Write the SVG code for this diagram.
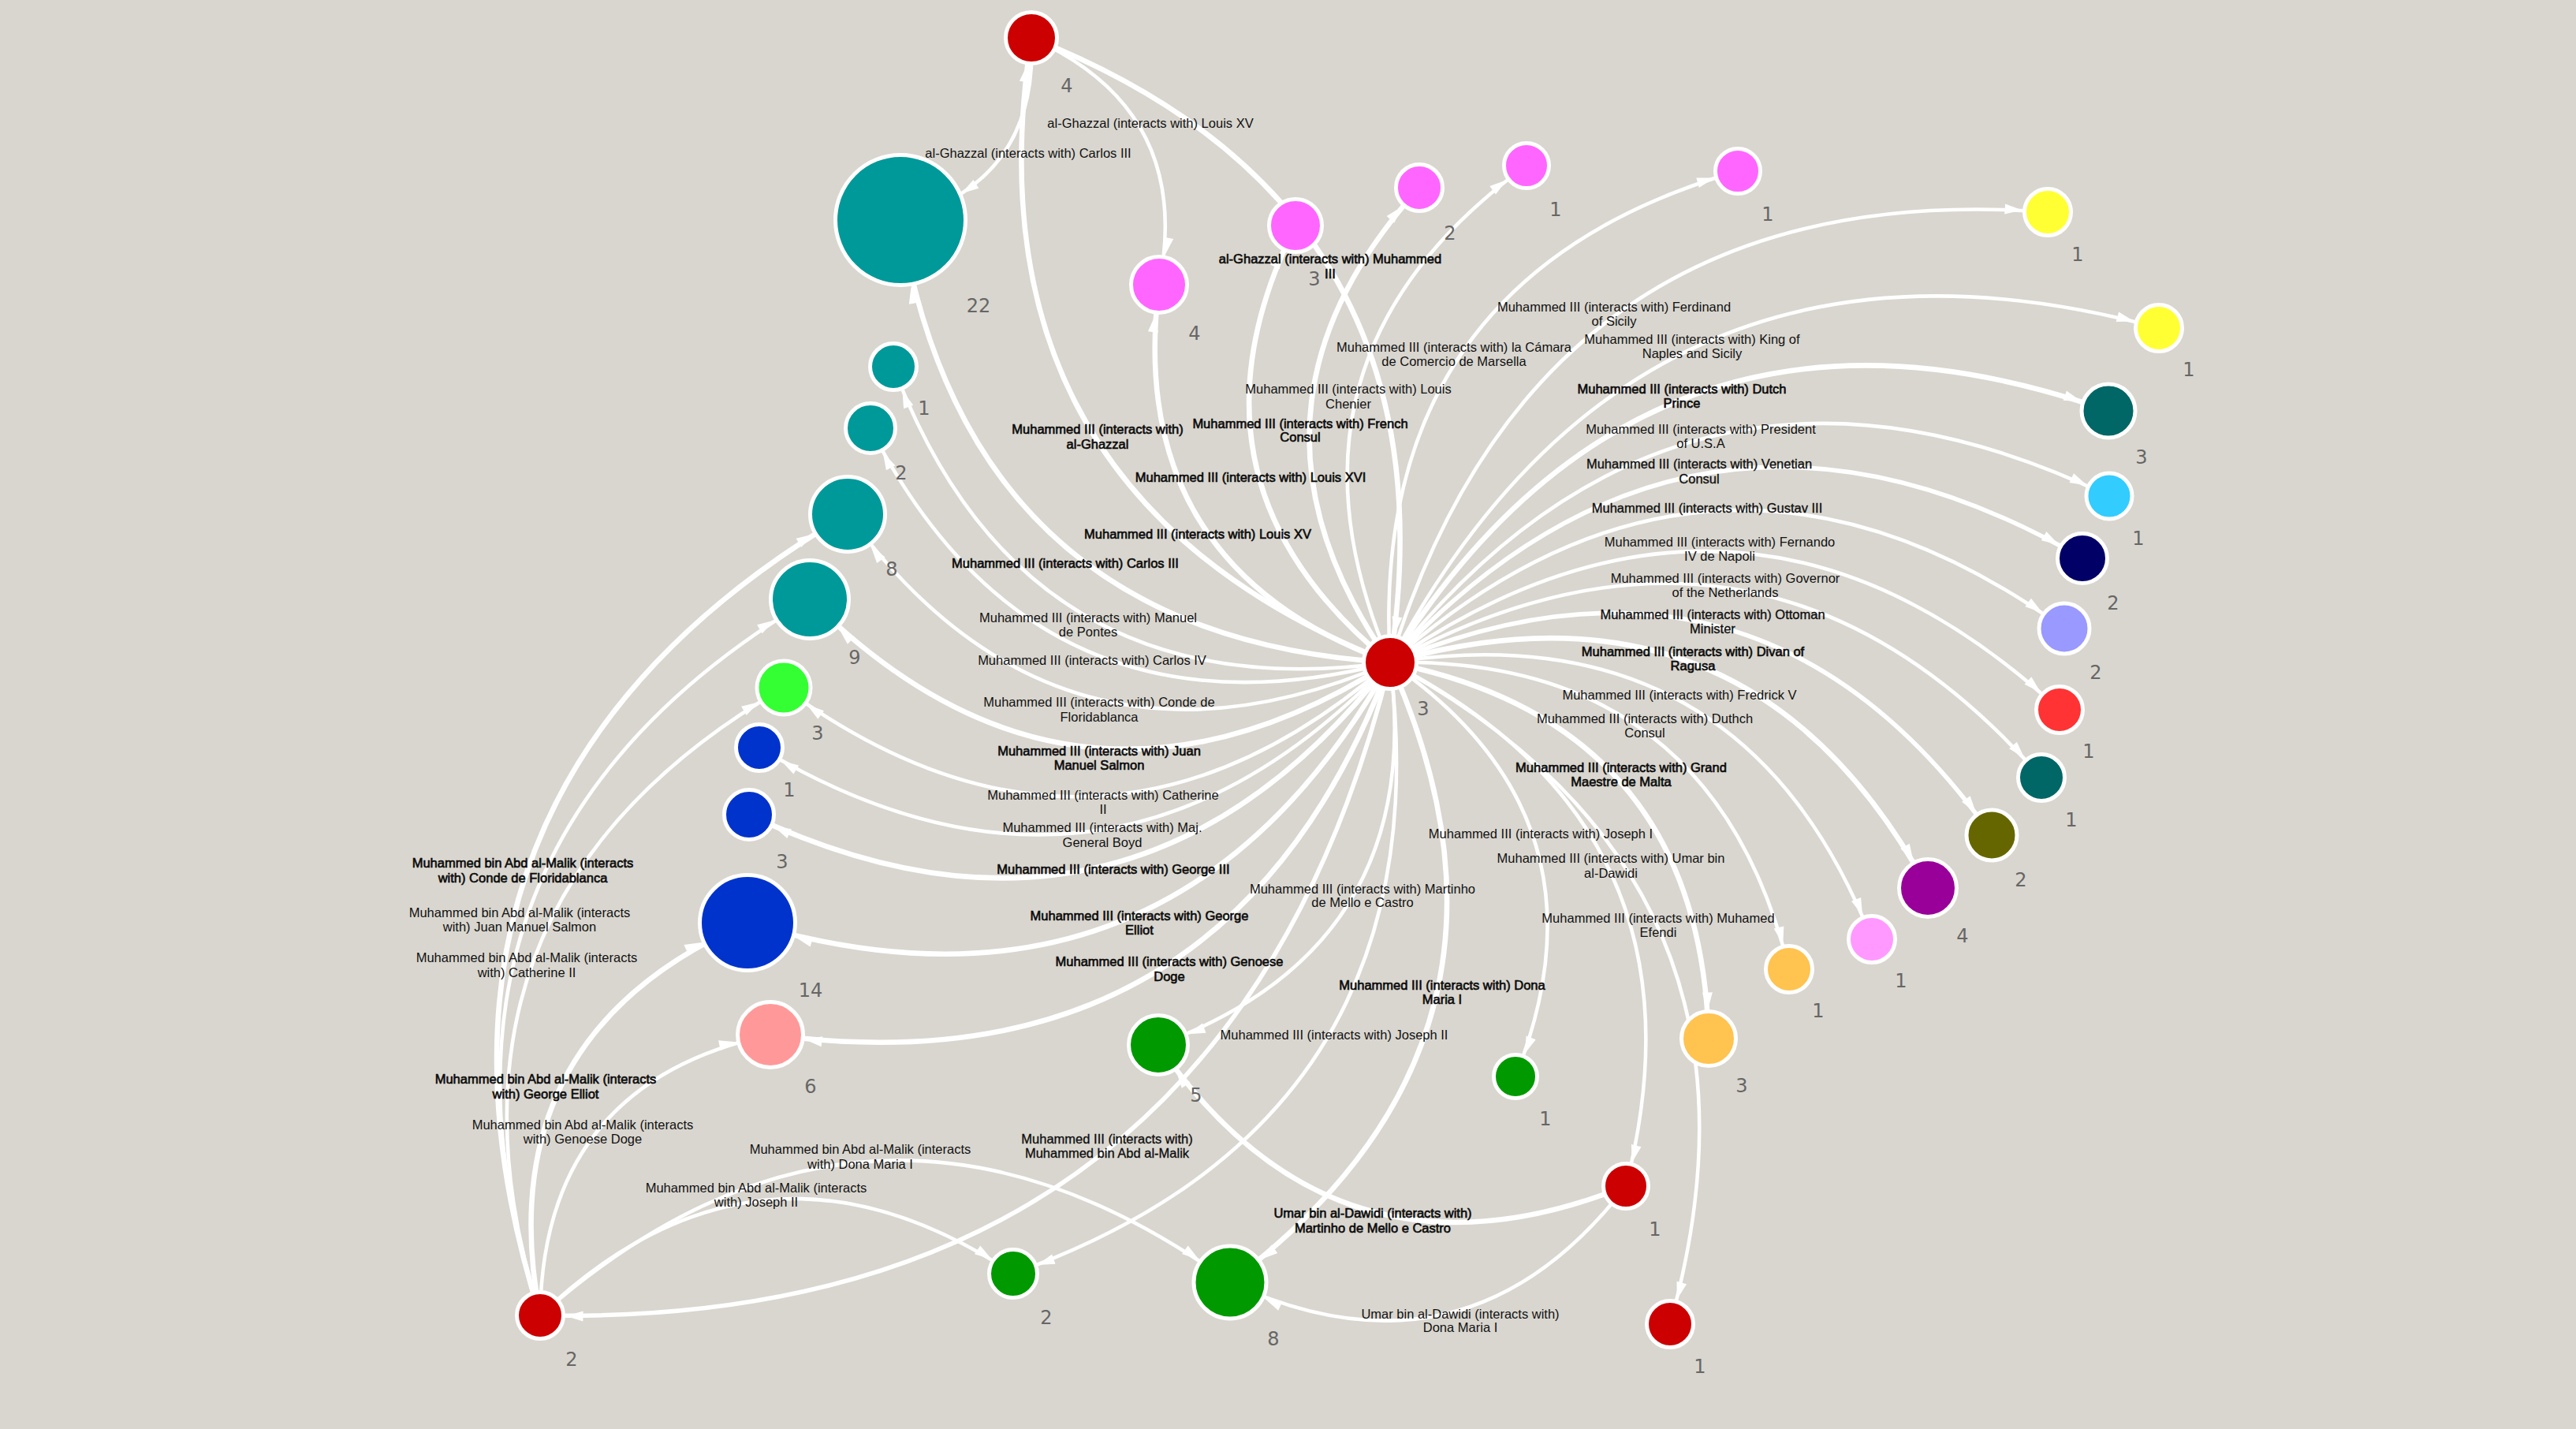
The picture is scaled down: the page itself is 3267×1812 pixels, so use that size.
<svg xmlns="http://www.w3.org/2000/svg" width="3267" height="1812" viewBox="0 0 3267 1812">
<style>
.e{fill:none;stroke:#fff;stroke-width:4.5}
.t{stroke-width:6.5}
.s{stroke-width:5.5}
.l{font-family:"Liberation Sans",Arial,sans-serif;font-size:16.5px;fill:#111;text-anchor:middle}
.b{stroke:#000;stroke-width:0.6}
.h{stroke:#000;stroke-width:0.3}
.n{stroke:#fff;stroke-width:5}
.c{font-family:"DejaVu Sans",Verdana,sans-serif;font-size:24px;fill:#666;text-anchor:middle}
</style>
<defs>
<marker id="m0" markerUnits="userSpaceOnUse" markerWidth="24" markerHeight="14" refX="22" refY="6.5" orient="auto" overflow="visible"><path d="M0,0L22,6.5L0,13z" fill="#fff"/></marker>
<marker id="m30" markerUnits="userSpaceOnUse" markerWidth="24" markerHeight="14" refX="53" refY="6.5" orient="auto" overflow="visible"><path d="M0,0L22,6.5L0,13z" fill="#fff"/></marker>
<marker id="m32" markerUnits="userSpaceOnUse" markerWidth="24" markerHeight="14" refX="54.5" refY="6.5" orient="auto" overflow="visible"><path d="M0,0L22,6.5L0,13z" fill="#fff"/></marker>
<marker id="m34" markerUnits="userSpaceOnUse" markerWidth="24" markerHeight="14" refX="56.5" refY="6.5" orient="auto" overflow="visible"><path d="M0,0L22,6.5L0,13z" fill="#fff"/></marker>
<marker id="m36" markerUnits="userSpaceOnUse" markerWidth="24" markerHeight="14" refX="58.5" refY="6.5" orient="auto" overflow="visible"><path d="M0,0L22,6.5L0,13z" fill="#fff"/></marker>
<marker id="m38" markerUnits="userSpaceOnUse" markerWidth="24" markerHeight="14" refX="60.5" refY="6.5" orient="auto" overflow="visible"><path d="M0,0L22,6.5L0,13z" fill="#fff"/></marker>
<marker id="m40" markerUnits="userSpaceOnUse" markerWidth="24" markerHeight="14" refX="62" refY="6.5" orient="auto" overflow="visible"><path d="M0,0L22,6.5L0,13z" fill="#fff"/></marker>
<marker id="m44" markerUnits="userSpaceOnUse" markerWidth="24" markerHeight="14" refX="66" refY="6.5" orient="auto" overflow="visible"><path d="M0,0L22,6.5L0,13z" fill="#fff"/></marker>
<marker id="m48" markerUnits="userSpaceOnUse" markerWidth="24" markerHeight="14" refX="70.5" refY="6.5" orient="auto" overflow="visible"><path d="M0,0L22,6.5L0,13z" fill="#fff"/></marker>
<marker id="m50" markerUnits="userSpaceOnUse" markerWidth="24" markerHeight="14" refX="72" refY="6.5" orient="auto" overflow="visible"><path d="M0,0L22,6.5L0,13z" fill="#fff"/></marker>
<marker id="m52" markerUnits="userSpaceOnUse" markerWidth="24" markerHeight="14" refX="74" refY="6.5" orient="auto" overflow="visible"><path d="M0,0L22,6.5L0,13z" fill="#fff"/></marker>
<marker id="m63" markerUnits="userSpaceOnUse" markerWidth="24" markerHeight="14" refX="85" refY="6.5" orient="auto" overflow="visible"><path d="M0,0L22,6.5L0,13z" fill="#fff"/></marker>
<marker id="m85" markerUnits="userSpaceOnUse" markerWidth="24" markerHeight="14" refX="107" refY="6.5" orient="auto" overflow="visible"><path d="M0,0L22,6.5L0,13z" fill="#fff"/></marker>
</defs>
<rect width="3267" height="1812" fill="#d9d6cf"/>
<g id="edges">
<path class="e t" d="M1763,840Q1541,524 1800,238" marker-end="url(#m32)"/>
<path class="e" d="M1763,840Q1597.5,455.8 1936,210" marker-end="url(#m30)"/>
<path class="e" d="M1763,840Q1734.3,352.1 2204,217" marker-end="url(#m30)"/>
<path class="e" d="M1763,840Q1951.6,220.9 2597,269" marker-end="url(#m32)"/>
<path class="e" d="M1763,840Q2080.9,238 2738,416" marker-end="url(#m32)"/>
<path class="e t" d="M1763,840Q2090.9,316.1 2674,521" marker-end="url(#m36)"/>
<path class="e" d="M1763,840Q2134.6,369.7 2675,629" marker-end="url(#m30)"/>
<path class="e s" d="M1763,840Q2149.2,422.8 2641,708" marker-end="url(#m34)"/>
<path class="e" d="M1763,840Q2173.3,476.5 2618,797" marker-end="url(#m34)"/>
<path class="e" d="M1763,840Q2211.5,530.4 2612,900" marker-end="url(#m32)"/>
<path class="e" d="M1763,840Q2234.4,582.6 2589,986" marker-end="url(#m32)"/>
<path class="e s" d="M1763,840Q2232.1,644.3 2526,1059" marker-end="url(#m34)"/>
<path class="e t" d="M1763,840Q2218.4,710.2 2445,1126" marker-end="url(#m38)"/>
<path class="e" d="M1763,840Q2208.9,771.1 2374,1191" marker-end="url(#m32)"/>
<path class="e" d="M1763,840Q2171.6,832.1 2269,1229" marker-end="url(#m32)"/>
<path class="e t" d="M1763,840Q2155.8,916.9 2167,1317" marker-end="url(#m36)"/>
<path class="e" d="M1763,840Q2178.1,1052.4 2062,1504" marker-end="url(#m30)"/>
<path class="e" d="M1763,840Q2276.1,1117.5 2118,1679" marker-end="url(#m32)"/>
<path class="e" d="M1763,840Q2052.5,1038.9 1922,1365" marker-end="url(#m30)"/>
<path class="e t" d="M1763,840Q1975.9,1314.2 1560,1626" marker-end="url(#m48)"/>
<path class="e" d="M1763,840Q1810,1200.1 1469,1325" marker-end="url(#m40)"/>
<path class="e" d="M1763,840Q1834,1418.7 1285,1615" marker-end="url(#m32)"/>
<path class="e s" d="M1763,840Q1555.2,1685.2 685,1668" marker-end="url(#m32)"/>
<path class="e t" d="M1763,840Q1558.8,1390.4 977,1312" marker-end="url(#m44)"/>
<path class="e t" d="M1763,840Q1487.5,1331 948,1170" marker-end="url(#m63)"/>
<path class="e t" d="M1763,840Q1433.7,1261.7 950,1033" marker-end="url(#m34)"/>
<path class="e" d="M1763,840Q1406.2,1214 963,948" marker-end="url(#m32)"/>
<path class="e" d="M1763,840Q1391.3,1163.6 994,872" marker-end="url(#m36)"/>
<path class="e t" d="M1763,840Q1363,1094.4 1027,760" marker-end="url(#m52)"/>
<path class="e" d="M1763,840Q1343.8,1021.2 1075,652" marker-end="url(#m50)"/>
<path class="e" d="M1763,840Q1314.7,955.1 1104,543" marker-end="url(#m34)"/>
<path class="e" d="M1763,840Q1298,904.5 1133,465" marker-end="url(#m32)"/>
<path class="e t" d="M1763,840Q1228.1,807.9 1142,279" marker-end="url(#m85)"/>
<path class="e t" d="M1763,840Q1218.7,626 1308,48" marker-end="url(#m34)"/>
<path class="e t" d="M1763,840Q1424.9,717.7 1470,361" marker-end="url(#m38)"/>
<path class="e t" d="M1763,840Q1481.4,611 1643,286" marker-end="url(#m36)"/>
<path class="e" d="M1308,48Q1315,183.5 1219.4,245.3" marker-end="url(#m0)"/>
<path class="e" d="M1308,48Q1514.2,139.7 1470,361" marker-end="url(#m38)"/>
<path class="e t" d="M1308,48Q1852.3,262 1763,840" marker-end="url(#m36)"/>
<path class="e t" d="M2062,1504Q1693.9,1651.7 1469,1325" marker-end="url(#m40)"/>
<path class="e" d="M2062,1504Q1859.8,1765.8 1560,1626" marker-end="url(#m48)"/>
<path class="e t" d="M685,1668Q473.6,1004 1075,652" marker-end="url(#m50)"/>
<path class="e" d="M685,1668Q492.8,1077.2 1027,760" marker-end="url(#m52)"/>
<path class="e" d="M685,1668Q521.1,1146.4 994,872" marker-end="url(#m36)"/>
<path class="e t" d="M685,1668Q617.3,1313.8 948,1170" marker-end="url(#m63)"/>
<path class="e" d="M685,1668Q688.6,1373.2 977,1312" marker-end="url(#m44)"/>
<path class="e" d="M685,1668Q1105.7,1297 1560,1626" marker-end="url(#m48)"/>
<path class="e" d="M685,1668Q963.8,1401.5 1285,1615" marker-end="url(#m32)"/>
</g>
<g id="edge-labels">
<text class="l" x="1304" y="200">al-Ghazzal (interacts with) Carlos III</text>
<text class="l" x="1459" y="162">al-Ghazzal (interacts with) Louis XV</text>
<text class="l b" x="1687" y="334">al-Ghazzal (interacts with) Muhammed<tspan x="1687" dy="19">III</tspan></text>
<text class="l b" x="1392" y="550">Muhammed III (interacts with)<tspan x="1392" dy="19">al-Ghazzal</tspan></text>
<text class="l b" x="1586" y="611">Muhammed III (interacts with) Louis XVI</text>
<text class="l b" x="1519" y="683">Muhammed III (interacts with) Louis XV</text>
<text class="l b" x="1351" y="720">Muhammed III (interacts with) Carlos III</text>
<text class="l" x="1380" y="789">Muhammed III (interacts with) Manuel<tspan x="1380" dy="18">de Pontes</tspan></text>
<text class="l" x="1385" y="843">Muhammed III (interacts with) Carlos IV</text>
<text class="l" x="1394" y="896">Muhammed III (interacts with) Conde de<tspan x="1394" dy="19">Floridablanca</tspan></text>
<text class="l b" x="1394" y="958">Muhammed III (interacts with) Juan<tspan x="1394" dy="18">Manuel Salmon</tspan></text>
<text class="l" x="1399" y="1014">Muhammed III (interacts with) Catherine<tspan x="1399" dy="18">II</tspan></text>
<text class="l" x="1398" y="1055">Muhammed III (interacts with) Maj.<tspan x="1398" dy="19">General Boyd</tspan></text>
<text class="l b" x="1412" y="1108">Muhammed III (interacts with) George III</text>
<text class="l b" x="1445" y="1167">Muhammed III (interacts with) George<tspan x="1445" dy="18">Elliot</tspan></text>
<text class="l b" x="1483" y="1225">Muhammed III (interacts with) Genoese<tspan x="1483" dy="19">Doge</tspan></text>
<text class="l h" x="1404" y="1450">Muhammed III (interacts with)<tspan x="1404" dy="18">Muhammed bin Abd al-Malik</tspan></text>
<text class="l" x="1692" y="1318">Muhammed III (interacts with) Joseph II</text>
<text class="l" x="1728" y="1133">Muhammed III (interacts with) Martinho<tspan x="1728" dy="17">de Mello e Castro</tspan></text>
<text class="l b" x="1829" y="1255">Muhammed III (interacts with) Dona<tspan x="1829" dy="18">Maria I</tspan></text>
<text class="l" x="1954" y="1063">Muhammed III (interacts with) Joseph I</text>
<text class="l" x="2043" y="1094">Muhammed III (interacts with) Umar bin<tspan x="2043" dy="19">al-Dawidi</tspan></text>
<text class="l" x="2103" y="1170">Muhammed III (interacts with) Muhamed<tspan x="2103" dy="18">Efendi</tspan></text>
<text class="l b" x="2056" y="979">Muhammed III (interacts with) Grand<tspan x="2056" dy="18">Maestre de Malta</tspan></text>
<text class="l" x="2086" y="917">Muhammed III (interacts with) Duthch<tspan x="2086" dy="18">Consul</tspan></text>
<text class="l" x="2130" y="887">Muhammed III (interacts with) Fredrick V</text>
<text class="l b" x="2147" y="832">Muhammed III (interacts with) Divan of<tspan x="2147" dy="18">Ragusa</tspan></text>
<text class="l h" x="2172" y="785">Muhammed III (interacts with) Ottoman<tspan x="2172" dy="18">Minister</tspan></text>
<text class="l" x="2188" y="739">Muhammed III (interacts with) Governor<tspan x="2188" dy="18">of the Netherlands</tspan></text>
<text class="l" x="2181" y="693">Muhammed III (interacts with) Fernando<tspan x="2181" dy="18">IV de Napoli</tspan></text>
<text class="l h" x="2165" y="650">Muhammed III (interacts with) Gustav III</text>
<text class="l h" x="2155" y="594">Muhammed III (interacts with) Venetian<tspan x="2155" dy="19">Consul</tspan></text>
<text class="l" x="2157" y="550">Muhammed III (interacts with) President<tspan x="2157" dy="18">of U.S.A</tspan></text>
<text class="l b" x="2133" y="499">Muhammed III (interacts with) Dutch<tspan x="2133" dy="18">Prince</tspan></text>
<text class="l" x="2146" y="436">Muhammed III (interacts with) King of<tspan x="2146" dy="18">Naples and Sicily</tspan></text>
<text class="l" x="2047" y="395">Muhammed III (interacts with) Ferdinand<tspan x="2047" dy="18">of Sicily</tspan></text>
<text class="l" x="1844" y="446">Muhammed III (interacts with) la Cámara<tspan x="1844" dy="18">de Comercio de Marsella</tspan></text>
<text class="l" x="1710" y="499">Muhammed III (interacts with) Louis<tspan x="1710" dy="19">Chenier</tspan></text>
<text class="l b" x="1649" y="543">Muhammed III (interacts with) French<tspan x="1649" dy="17">Consul</tspan></text>
<text class="l b" x="1741" y="1544">Umar bin al-Dawidi (interacts with)<tspan x="1741" dy="19">Martinho de Mello e Castro</tspan></text>
<text class="l" x="1852" y="1672">Umar bin al-Dawidi (interacts with)<tspan x="1852" dy="17">Dona Maria I</tspan></text>
<text class="l b" x="663" y="1100">Muhammed bin Abd al-Malik (interacts<tspan x="663" dy="19">with) Conde de Floridablanca</tspan></text>
<text class="l" x="659" y="1163">Muhammed bin Abd al-Malik (interacts<tspan x="659" dy="18">with) Juan Manuel Salmon</tspan></text>
<text class="l" x="668" y="1220">Muhammed bin Abd al-Malik (interacts<tspan x="668" dy="19">with) Catherine II</tspan></text>
<text class="l b" x="692" y="1374">Muhammed bin Abd al-Malik (interacts<tspan x="692" dy="19">with) George Elliot</tspan></text>
<text class="l" x="739" y="1432">Muhammed bin Abd al-Malik (interacts<tspan x="739" dy="18">with) Genoese Doge</tspan></text>
<text class="l" x="1091" y="1463">Muhammed bin Abd al-Malik (interacts<tspan x="1091" dy="19">with) Dona Maria I</tspan></text>
<text class="l" x="959" y="1512">Muhammed bin Abd al-Malik (interacts<tspan x="959" dy="18">with) Joseph II</tspan></text>
</g>
<g id="n-muhammed-iii"><circle class="n" cx="1763" cy="840" r="33.5" fill="#cc0000"/><text class="c" x="1805" y="907">3</text></g>
<g id="n-al-ghazzal"><circle class="n" cx="1308" cy="48" r="32.5" fill="#cc0000"/><text class="c" x="1353" y="117">4</text></g>
<g id="n-carlos-iii"><circle class="n" cx="1142" cy="279" r="82.5" fill="#009999"/><text class="c" x="1241" y="396">22</text></g>
<g id="n-louis-xv"><circle class="n" cx="1470" cy="361" r="35.5" fill="#ff66ff"/><text class="c" x="1515" y="431">4</text></g>
<g id="n-louis-xvi"><circle class="n" cx="1643" cy="286" r="33.5" fill="#ff66ff"/><text class="c" x="1667" y="362">3</text></g>
<g id="n-french-consul"><circle class="n" cx="1800" cy="238" r="29.5" fill="#ff66ff"/><text class="c" x="1839" y="304">2</text></g>
<g id="n-louis-chenier"><circle class="n" cx="1936" cy="210" r="28.5" fill="#ff66ff"/><text class="c" x="1973" y="274">1</text></g>
<g id="n-la-camara"><circle class="n" cx="2204" cy="217" r="28.5" fill="#ff66ff"/><text class="c" x="2242" y="280">1</text></g>
<g id="n-ferdinand"><circle class="n" cx="2597" cy="269" r="29.5" fill="#ffff33"/><text class="c" x="2635" y="331">1</text></g>
<g id="n-king-naples"><circle class="n" cx="2738" cy="416" r="29.5" fill="#ffff33"/><text class="c" x="2776" y="477">1</text></g>
<g id="n-dutch-prince"><circle class="n" cx="2674" cy="521" r="34" fill="#006666"/><text class="c" x="2716" y="588">3</text></g>
<g id="n-president-usa"><circle class="n" cx="2675" cy="629" r="29" fill="#33ccff"/><text class="c" x="2712" y="691">1</text></g>
<g id="n-venetian-consul"><circle class="n" cx="2641" cy="708" r="31.5" fill="#000066"/><text class="c" x="2680" y="773">2</text></g>
<g id="n-gustav-iii"><circle class="n" cx="2618" cy="797" r="32" fill="#9999ff"/><text class="c" x="2658" y="861">2</text></g>
<g id="n-fernando-iv"><circle class="n" cx="2612" cy="900" r="29.5" fill="#ff3333"/><text class="c" x="2649" y="961">1</text></g>
<g id="n-governor"><circle class="n" cx="2589" cy="986" r="29.5" fill="#006666"/><text class="c" x="2627" y="1048">1</text></g>
<g id="n-ottoman-minister"><circle class="n" cx="2526" cy="1059" r="32" fill="#666600"/><text class="c" x="2563" y="1124">2</text></g>
<g id="n-divan-ragusa"><circle class="n" cx="2445" cy="1126" r="36.5" fill="#990099"/><text class="c" x="2489" y="1195">4</text></g>
<g id="n-fredrick-v"><circle class="n" cx="2374" cy="1191" r="29.5" fill="#ff99ff"/><text class="c" x="2411" y="1252">1</text></g>
<g id="n-duthch-consul"><circle class="n" cx="2269" cy="1229" r="29.5" fill="#ffc34f"/><text class="c" x="2306" y="1290">1</text></g>
<g id="n-grand-maestre"><circle class="n" cx="2167" cy="1317" r="34.5" fill="#ffc34f"/><text class="c" x="2209" y="1385">3</text></g>
<g id="n-umar"><circle class="n" cx="2062" cy="1504" r="28.5" fill="#cc0000"/><text class="c" x="2099" y="1567">1</text></g>
<g id="n-muhamed-efendi"><circle class="n" cx="2118" cy="1679" r="29.5" fill="#cc0000"/><text class="c" x="2156" y="1741">1</text></g>
<g id="n-joseph-i"><circle class="n" cx="1922" cy="1365" r="27.5" fill="#009900"/><text class="c" x="1960" y="1427">1</text></g>
<g id="n-dona-maria"><circle class="n" cx="1560" cy="1626" r="46" fill="#009900"/><text class="c" x="1615" y="1706">8</text></g>
<g id="n-martinho"><circle class="n" cx="1469" cy="1325" r="37.5" fill="#009900"/><text class="c" x="1517" y="1397">5</text></g>
<g id="n-joseph-ii"><circle class="n" cx="1285" cy="1615" r="30.5" fill="#009900"/><text class="c" x="1327" y="1679">2</text></g>
<g id="n-muhammed-bin-abd-al-malik"><circle class="n" cx="685" cy="1668" r="29.5" fill="#cc0000"/><text class="c" x="725" y="1732">2</text></g>
<g id="n-genoese-doge"><circle class="n" cx="977" cy="1312" r="41.5" fill="#ff9999"/><text class="c" x="1028" y="1386">6</text></g>
<g id="n-george-elliot"><circle class="n" cx="948" cy="1170" r="60.5" fill="#0033cc"/><text class="c" x="1028" y="1264">14</text></g>
<g id="n-george-iii"><circle class="n" cx="950" cy="1033" r="31.5" fill="#0033cc"/><text class="c" x="992" y="1101">3</text></g>
<g id="n-boyd"><circle class="n" cx="963" cy="948" r="29.5" fill="#0033cc"/><text class="c" x="1001" y="1010">1</text></g>
<g id="n-catherine-ii"><circle class="n" cx="994" cy="872" r="34" fill="#33ff33"/><text class="c" x="1037" y="938">3</text></g>
<g id="n-juan-manuel-salmon"><circle class="n" cx="1027" cy="760" r="49.5" fill="#009999"/><text class="c" x="1084" y="842">9</text></g>
<g id="n-floridablanca"><circle class="n" cx="1075" cy="652" r="47.5" fill="#009999"/><text class="c" x="1131" y="730">8</text></g>
<g id="n-carlos-iv"><circle class="n" cx="1104" cy="543" r="31.5" fill="#009999"/><text class="c" x="1143" y="608">2</text></g>
<g id="n-manuel-de-pontes"><circle class="n" cx="1133" cy="465" r="29.5" fill="#009999"/><text class="c" x="1172" y="526">1</text></g>
</svg>
